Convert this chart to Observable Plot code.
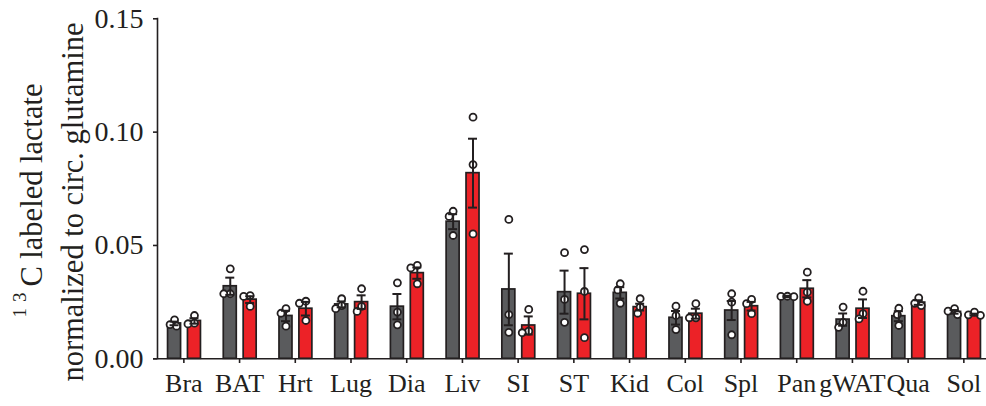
<!DOCTYPE html>
<html>
<head>
<meta charset="utf-8">
<script src="https://cdn.jsdelivr.net/npm/d3@7"></script>
<script src="https://cdn.jsdelivr.net/npm/@observablehq/plot@0.6"></script>
<style>
  body { margin: 0; background: #fff; }
  #chart svg { display: block; }
</style>
</head>
<body>
<div id="chart"></div>
<script>
// ---------- data ----------
const tissues = ["Bra","BAT","Hrt","Lug","Dia","Liv","SI","ST","Kid","Col","Spl","Pan","gWAT","Qua","Sol"];
const yTicks = [0, 0.05, 0.10, 0.15];

const meanGray = [0.0156,0.0320,0.0189,0.0240,0.0230,0.0605,0.0306,0.0294,0.0291,0.0181,0.0213,0.0275,0.0173,0.0188,0.0207];
const semGray  = [0.0008,0.0038,0.0023,0.0013,0.0056,0.0033,0.0158,0.0095,0.0025,0.0030,0.0042,0.0003,0.0027,0.0022,0.0008];
const meanRed  = [0.0167,0.0261,0.0221,0.0250,0.0378,0.0819,0.0147,0.0287,0.0228,0.0199,0.0232,0.0309,0.0221,0.0248,0.0195];
const semRed   = [0.0012,0.0015,0.0030,0.0030,0.0025,0.0152,0.0040,0.0113,0.0015,0.0022,0.0019,0.0038,0.0041,0.0010,0.0004];

const dotsGray = [
  [0.0172,0.0151,0.0144],[0.0397,0.0287,0.0287],[0.0221,0.0201,0.0144],[0.0265,0.0235,0.0221],
  [0.0335,0.0206,0.0150],[0.0651,0.0628,0.0544],[0.0615,0.0195,0.0117],[0.0468,0.0262,0.0161],
  [0.0331,0.0304,0.0245],[0.0232,0.0191,0.0129],[0.0287,0.0250,0.0106],[0.0275,0.0274,0.0276],
  [0.0228,0.0161,0.0139],[0.0223,0.0195,0.0147],[0.0221,0.0210,0.0195]
];
const dotsRed = [
  [0.0191,0.0157,0.0154],[0.0279,0.0275,0.0231],[0.0254,0.0245,0.0169],[0.0309,0.0231,0.0209],
  [0.0412,0.0401,0.0331],[0.1066,0.0857,0.0551],[0.0218,0.0122,0.0115],[0.0482,0.0297,0.0093],
  [0.0265,0.0228,0.0201],[0.0243,0.0181,0.0181],[0.0262,0.0243,0.0199],[0.0382,0.0294,0.0254],
  [0.0298,0.0199,0.0176],[0.0269,0.0245,0.0235],[0.0206,0.0194,0.0192]
];

// ---------- layout / style ----------
const W = 986, H = 406;
const xRange = [155.5, 991.2];
const yDomain = [0, 0.15], yRange = [358.3, 18.3];
const bw = (xRange[1] - xRange[0]) / tissues.length;
const barW = 13, capW = 9;
const offGray = -9.3, offRed = 10.6;
const ink = "#231f20", grayFill = "#5a5b5d", redFill = "#ec2227";
const font = "'Liberation Serif', 'Times New Roman', serif";

const tblGray = tissues.map((t, i) => ({tissue: t, mean: meanGray[i], sem: semGray[i]}));
const tblRed  = tissues.map((t, i) => ({tissue: t, mean: meanRed[i],  sem: semRed[i]}));

// simple beeswarm spread of the replicate dots (pixel offsets)
const yPix = d3.scaleLinear(yDomain, yRange);
function swarm(dotsList) {
  const out = [];
  const D = 6.5;
  dotsList.forEach((vals, i) => {
    const placed = [];
    vals.map(v => ({v, py: yPix(v)})).sort((a, b) => a.py - b.py).forEach(d => {
      let best = 0;
      for (let k = 0; k < 60; k++) {
        const cand = (k % 2 ? -1 : 1) * Math.ceil(k / 2) * 0.5;
        if (placed.every(p => (p.dx - cand) ** 2 + (p.py - d.py) ** 2 >= D * D)) { best = cand; break; }
      }
      placed.push({dx: best, py: d.py});
      out.push({tissue: tissues[i], value: d.v, off: Math.round(best * 2) / 2});
    });
  });
  return out;
}

function dotMarks(list, base) {
  const groups = d3.group(list, d => d.off);
  return Array.from(groups, ([off, arr]) =>
    Plot.dot(arr, {x: "tissue", y: "value", dx: base + off, r: 3.5, fill: "white", stroke: ink, strokeWidth: 1.8})
  );
}

function errMarks(tbl, off) {
  const ins = (bw - capW) / 2;
  return [
    Plot.ruleX(tbl, {x: "tissue", y1: d => d.mean - d.sem, y2: d => d.mean + d.sem, dx: off, stroke: ink, strokeWidth: 2}),
    Plot.tickY(tbl, {x: "tissue", y: d => d.mean + d.sem, dx: off, insetLeft: ins, insetRight: ins, stroke: ink, strokeWidth: 2}),
    Plot.tickY(tbl, {x: "tissue", y: d => d.mean - d.sem, dx: off, insetLeft: ins, insetRight: ins, stroke: ink, strokeWidth: 2})
  ];
}

const barIns = (bw - barW) / 2;

const plot = Plot.plot({
  width: W,
  height: H,
  marginLeft: 157,
  marginRight: 0,
  marginTop: 18,
  marginBottom: 48,
  style: {fontFamily: font, color: ink, background: "white", overflow: "visible"},
  x: {type: "band", domain: tissues, range: xRange, padding: 0, round: false},
  y: {domain: yDomain, range: yRange},
  marks: [
    Plot.barY(tblGray, {x: "tissue", y1: 0, y2: "mean", dx: offGray, insetLeft: barIns, insetRight: barIns, fill: grayFill, stroke: ink, strokeWidth: 1.7}),
    Plot.barY(tblRed,  {x: "tissue", y1: 0, y2: "mean", dx: offRed,  insetLeft: barIns, insetRight: barIns, fill: redFill,  stroke: ink, strokeWidth: 1.7}),
    ...dotMarks(swarm(dotsGray), offGray),
    ...dotMarks(swarm(dotsRed), offRed),
    ...errMarks(tblGray, offGray),
    ...errMarks(tblRed, offRed),
    Plot.ruleY([0], {stroke: ink, strokeWidth: 1.6, insetLeft: -4}),
    Plot.frame({anchor: "left", stroke: ink, strokeWidth: 1.6}),
    Plot.axisY({ticks: yTicks, tickFormat: ".2f", tickSize: 4, tickPadding: 10, fontSize: 28, label: null, strokeWidth: 1.6}),
    Plot.axisX({tickSize: 5, tickPadding: 10, fontSize: 26, label: null, strokeWidth: 1.6})
  ]
});

document.getElementById("chart").appendChild(plot);

// ---------- two-line rotated y-axis title ----------
const svg = d3.select(plot);
const g1 = svg.append("text")
  .attr("transform", "translate(42,200.5) rotate(-90)")
  .attr("text-anchor", "middle")
  .attr("font-family", font)
  .attr("font-size", 30.5)
  .attr("fill", ink);
g1.append("tspan").attr("font-size", 19).attr("letter-spacing", 6).attr("dy", -16).text("13");
g1.append("tspan").attr("dy", 16).text("C labeled lactate");

svg.append("text")
  .attr("transform", "translate(83,202) rotate(-90)")
  .attr("text-anchor", "middle")
  .attr("font-family", font)
  .attr("font-size", 30.5)
  .attr("fill", ink)
  .text("normalized to circ. glutamine");
</script>
</body>
</html>
